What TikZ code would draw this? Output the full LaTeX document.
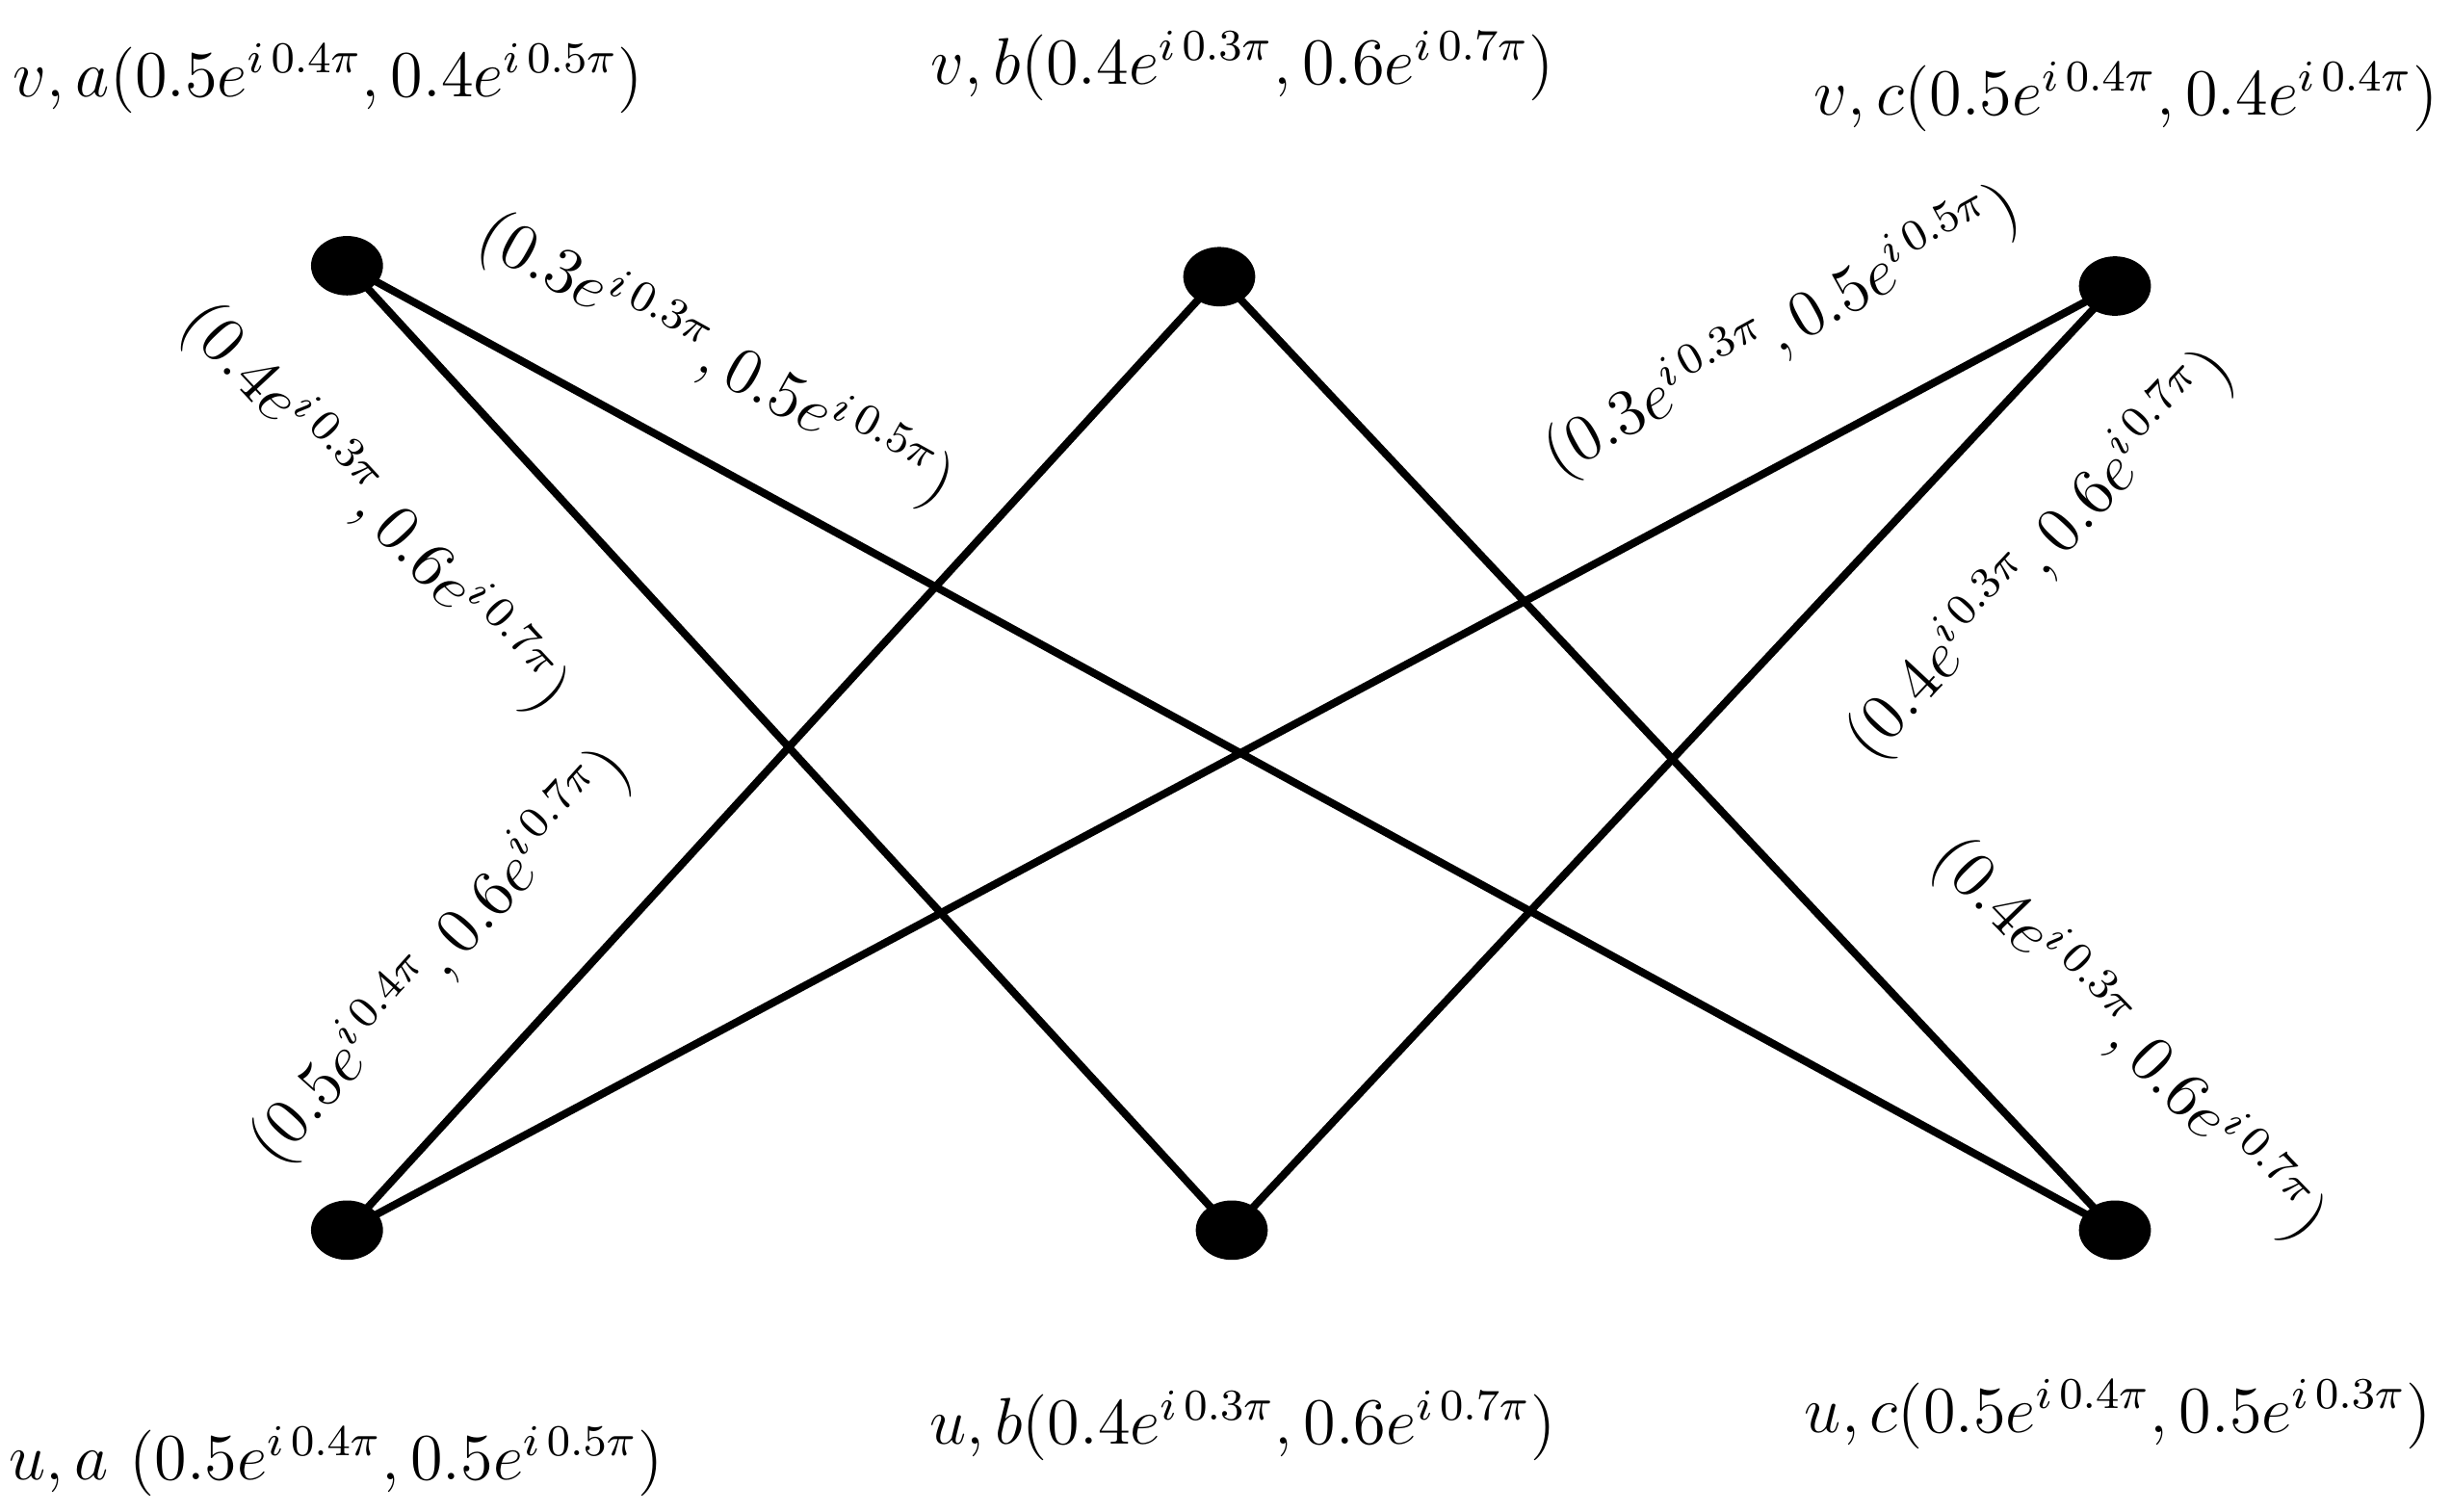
\documentclass[tikz,border=0pt]{standalone}
\usetikzlibrary{shapes.geometric}
\begin{document}
\begin{tikzpicture}[x=0.01cm,y=-0.01cm,
  vert/.style={ellipse,fill=black,minimum width=0.46cm,minimum height=0.38cm,inner sep=0},
  edge/.style={line width=1.4pt},
  lab/.style={font=\fontsize{11.5}{14}\selectfont,inner sep=0}]
\useasboundingbox (0,0) rectangle (1568,967);
\node[vert] (va) at (222,170) {};
\node[vert] (vb) at (780,177) {};
\node[vert] (vc) at (1353,183) {};
\node[vert] (ua) at (222,787) {};
\node[vert] (ub) at (788,787) {};
\node[vert] (uc) at (1353,787) {};
\draw[edge] (va.center) -- (ub.center);
\draw[edge] (va.center) -- (uc.center);
\draw[edge] (vb.center) -- (ua.center);
\draw[edge] (vb.center) -- (uc.center);
\draw[edge] (vc.center) -- (ua.center);
\draw[edge] (vc.center) -- (ub.center);
\node[lab] (tva) at (210,50) {$v,a(0.5e^{i\,0.4\pi},0.4e^{i\,0.5\pi})$};
\node[lab] (tvb) at (795,42) {$v,b(0.4e^{i\,0.3\pi},0.6e^{i\,0.7\pi})$};
\node[lab] (tvc) at (1360,62) {$v,c(0.5e^{i\,0.4\pi},0.4e^{i\,0.4\pi})$};
\node[lab] (tua) at (215,935) {$u,a\ (0.5e^{i\,0.4\pi},0.5e^{i\,0.5\pi})$};
\node[lab] (tub) at (795,912) {$u,b(0.4e^{i\,0.3\pi},0.6e^{i\,0.7\pi})$};
\node[lab] (tuc) at (1355,905) {$u,c(0.5e^{i\,0.4\pi},0.5e^{i\,0.3\pi})$};
\node[lab,rotate=-29] (e1) at (458,230) {$(0.3e^{i\,0.3\pi},0.5e^{i\,0.5\pi})$};
\node[lab,rotate=-47] (e2) at (240,325) {$(0.4e^{i\,0.3\pi},0.6e^{i\,0.7\pi})$};
\node[lab,rotate=48] (e3) at (282,612) {$(0.5e^{i\,0.4\pi},0.6e^{i\,0.7\pi})$};
\node[lab,rotate=29] (e4) at (1140,212) {$(0.3e^{i\,0.3\pi},0.5e^{i\,0.5\pi})$};
\node[lab,rotate=47] (e5) at (1305,355) {$(0.4e^{i\,0.3\pi},0.6e^{i\,0.7\pi})$};
\node[lab,rotate=-46] (e6) at (1362,665) {$(0.4e^{i\,0.3\pi},0.6e^{i\,0.7\pi})$};
\end{tikzpicture}
\end{document}
